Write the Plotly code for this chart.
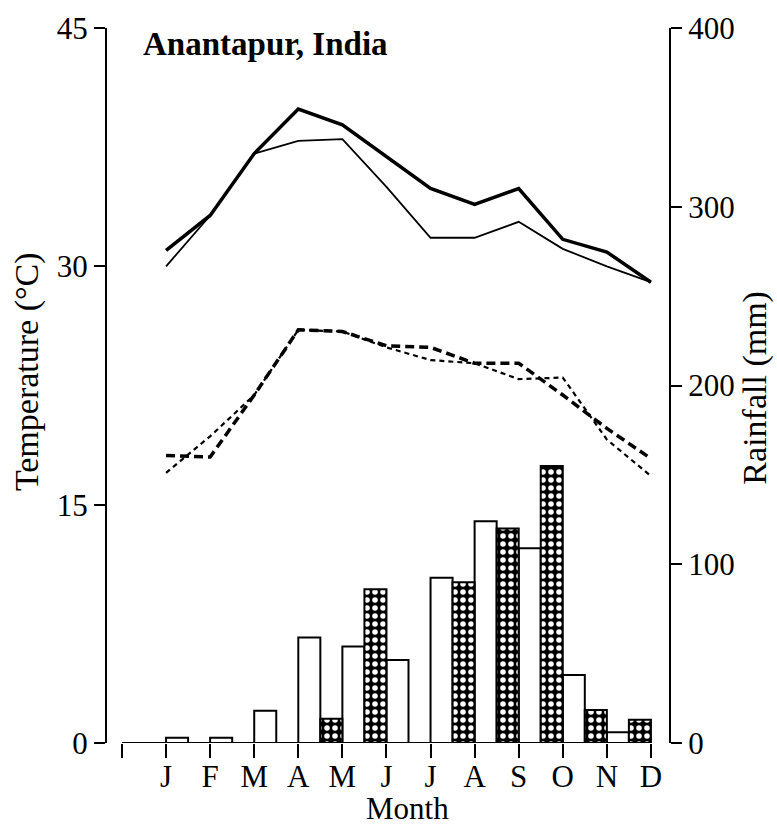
import plotly.graph_objects as go

# ---- data ----
months = ["J", "F", "M", "A", "M", "J", "J", "A", "S", "O", "N", "D"]

# rainfall (mm), right axis: open bars and cross-hatched bars
rain_open = [0, 3, 3, 18, 59, 54, 46.5, 92.5, 124, 109, 38, 6]
rain_hatched = [0, 0, 0, 0, 13.5, 86, 0, 90, 120, 155, 18.5, 13]

# temperature (deg C), left axis
tmax_thick = [31.0, 33.2, 37.1, 39.9, 38.9, 36.9, 34.9, 33.9, 34.9, 31.7, 30.9, 29.0]
tmax_thin = [30.0, 33.2, 37.1, 37.9, 38.0, 35.0, 31.8, 31.8, 32.8, 31.1, 30.0, 29.0]
tmin_thick = [18.1, 18.0, 21.9, 26.0, 25.9, 25.0, 24.9, 23.9, 23.9, 21.9, 19.8, 17.9]
tmin_thin = [17.0, 19.3, 21.9, 26.0, 25.9, 24.9, 24.1, 23.9, 22.9, 23.0, 19.1, 16.8]

temp_ticks = [0, 15, 30, 45]
rain_ticks = [0, 100, 200, 300, 400]

FONT = "Liberation Serif, Times New Roman, serif"

n = len(months)
pos = list(range(1, n + 1))
open_x = [p - 0.75 for p in pos]
hatch_x = [p - 0.25 for p in pos]

fig = go.Figure()

fig.add_trace(go.Bar(
    x=open_x, y=rain_open, width=0.5, yaxis="y2",
    marker=dict(color="white", line=dict(color="black", width=2)),
    showlegend=False, name="Rainfall (open)"))
fig.add_trace(go.Bar(
    x=hatch_x, y=rain_hatched, width=0.5, yaxis="y2",
    marker=dict(color="black", line=dict(color="black", width=2),
                pattern=dict(shape=".", fillmode="overlay", fgcolor="white",
                             fgopacity=1, size=8, solidity=0.38)),
    showlegend=False, name="Rainfall (hatched)"))

fig.add_trace(go.Scatter(x=pos, y=tmax_thick, mode="lines",
                         line=dict(color="black", width=3.5), showlegend=False))
fig.add_trace(go.Scatter(x=pos, y=tmax_thin, mode="lines",
                         line=dict(color="black", width=1.8), showlegend=False))
fig.add_trace(go.Scatter(x=pos, y=tmin_thick, mode="lines",
                         line=dict(color="black", width=3.5, dash="9px,5px"), showlegend=False))
fig.add_trace(go.Scatter(x=pos, y=tmin_thin, mode="lines",
                         line=dict(color="black", width=2.2, dash="5px,4px"), showlegend=False))

# baseline of the month axis
fig.add_shape(type="line", xref="x", yref="y", x0=0, x1=n, y0=0, y1=0,
              line=dict(color="black", width=2))

fig.update_layout(
    width=777, height=828,
    margin=dict(l=107, r=108, t=28, b=85),
    paper_bgcolor="white", plot_bgcolor="white",
    font=dict(family=FONT, color="black"),
    barmode="overlay",
    xaxis=dict(range=[-0.34, 12.41], tickvals=list(range(0, n + 1)),
               ticktext=[""] + months, ticks="outside", ticklen=14, tickwidth=1.5,
               tickcolor="black", showline=False, showgrid=False, zeroline=False,
               ticklabelstandoff=-8,
               tickfont=dict(size=31, family=FONT)),
    yaxis=dict(range=[0, 45], tickvals=temp_ticks, ticks="outside", ticklen=11,
               tickwidth=1.5, tickcolor="black", showline=True, linecolor="black",
               linewidth=2, showgrid=False, zeroline=False,
               tickfont=dict(size=31, family=FONT)),
    yaxis2=dict(range=[0, 400], tickvals=rain_ticks, overlaying="y", side="right",
                ticks="outside", ticklen=11, tickwidth=1.5, tickcolor="black",
                showline=True, linecolor="black", linewidth=2, showgrid=False,
                zeroline=False, tickfont=dict(size=31, family=FONT)),
    annotations=[
        dict(text="<b>Anantapur, India</b>", xref="paper", yref="paper",
             x=0.0605, y=0.978, xanchor="left", yanchor="middle", showarrow=False,
             font=dict(size=33, family=FONT)),
        dict(text="Temperature (°C)", xref="paper", yref="paper",
             x=-0.142, y=0.519, xanchor="center", yanchor="middle", textangle=-90,
             showarrow=False, font=dict(size=34, family=FONT)),
        dict(text="Rainfall (mm)", xref="paper", yref="paper",
             x=1.153, y=0.497, xanchor="center", yanchor="middle", textangle=-90,
             showarrow=False, font=dict(size=34, family=FONT)),
        dict(text="Month", xref="paper", yref="paper",
             x=0.534, y=-0.0915, xanchor="center", yanchor="middle", borderpad=0,
             showarrow=False, font=dict(size=31, family=FONT)),
    ],
)

fig.write_html("out.html")
